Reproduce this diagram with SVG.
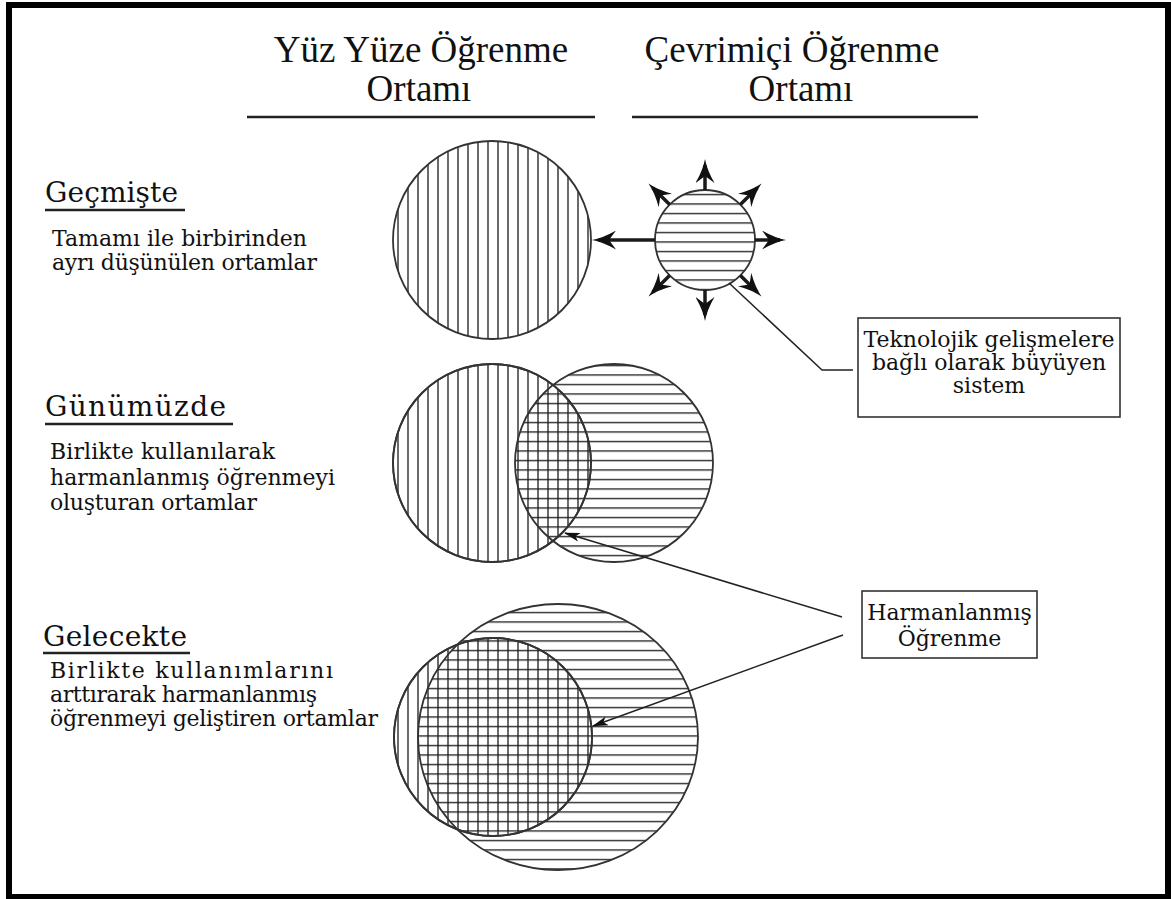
<svg xmlns="http://www.w3.org/2000/svg" width="1171" height="899" viewBox="0 0 1171 899">
<style>
.hdr{font-family:"Liberation Serif",serif;font-size:37px;fill:#111;text-anchor:middle}
.lbl{font-family:"DejaVu Serif","Liberation Serif",serif;font-size:28px;fill:#111}
.body{font-family:"DejaVu Serif","Liberation Serif",serif;font-size:22px;fill:#111}
.boxt{font-family:"DejaVu Serif","Liberation Serif",serif;font-size:22px;fill:#111;text-anchor:middle}
.rule{stroke:#222;stroke-width:2.6;fill:none}
.circ{stroke:#333;stroke-width:1.8}
.box{fill:#fff;stroke:#333;stroke-width:1.6}
.thick{stroke:#1a1a1a;stroke-width:3.5;fill:none;marker-end:url(#mk-big)}
.thin{stroke:#222;stroke-width:1.5;fill:none}
.thinarr{stroke:#222;stroke-width:1.5;fill:none;marker-end:url(#mk-small)}
</style>
<defs>
<pattern id="vh" patternUnits="userSpaceOnUse" x="0" y="0" width="10" height="10">
<path d="M8,0V10" stroke="#1a1a1a" stroke-width="1.3"/>
</pattern>
<pattern id="hh" patternUnits="userSpaceOnUse" x="0" y="0" width="10" height="9.5">
<path d="M0,4.5H10" stroke="#1a1a1a" stroke-width="1.3"/>
</pattern>
<marker id="mk-big" markerUnits="userSpaceOnUse" viewBox="0 0 24 19" markerWidth="24" markerHeight="19" refX="18" refY="9.5" orient="auto">
<path d="M24,9.5 Q13,7.5 0,0 L7,9.5 L0,19 Q13,11.5 24,9.5 Z" fill="#111"/>
</marker>
<marker id="mk-small" markerUnits="userSpaceOnUse" viewBox="0 0 16 9" markerWidth="16" markerHeight="9" refX="15" refY="4.5" orient="auto">
<path d="M16,4.5 L0,0 L4,4.5 L0,9 Z" fill="#111"/>
</marker>
</defs>
<rect x="0" y="0" width="1171" height="899" fill="#fff"/>
<rect id="frame" x="9" y="5" width="1159" height="892" fill="none" stroke="#000" stroke-width="6"/>

<g id="header-ftf">
<text class="hdr" x="421" y="62">Yüz Yüze Öğrenme</text>
<text class="hdr" x="419" y="101">Ortamı</text>
<line class="rule" x1="247" y1="117" x2="595" y2="117"/>
</g>
<g id="header-online">
<text class="hdr" x="792" y="62">Çevrimiçi Öğrenme</text>
<text class="hdr" x="801" y="101">Ortamı</text>
<line class="rule" x1="632" y1="117" x2="978" y2="117"/>
</g>

<g id="label-past">
<text class="lbl" x="45" y="202" textLength="133">Geçmişte</text>
<line class="rule" x1="45" y1="210" x2="185" y2="210"/>
<text class="body" x="52" y="246" textLength="255">Tamamı ile birbirinden</text>
<text class="body" x="52" y="270" textLength="265">ayrı düşünülen ortamlar</text>
</g>
<g id="label-present">
<text class="lbl" x="45" y="416" textLength="181">Günümüzde</text>
<line class="rule" x1="45" y1="424" x2="233" y2="424"/>
<text class="body" x="50" y="459" textLength="225">Birlikte kullanılarak</text>
<text class="body" x="50" y="485" textLength="285">harmanlanmış öğrenmeyi</text>
<text class="body" x="50" y="510" textLength="207">oluşturan ortamlar</text>
</g>
<g id="label-future">
<text class="lbl" x="43" y="646" textLength="144">Gelecekte</text>
<line class="rule" x1="43" y1="653" x2="190" y2="653"/>
<text class="body" x="50" y="678" textLength="283">Birlikte kullanımlarını</text>
<text class="body" x="50" y="702" textLength="267">arttırarak harmanlanmış</text>
<text class="body" x="50" y="726" textLength="328">öğrenmeyi geliştiren ortamlar</text>
</g>

<g id="past-ftf">
<circle class="circ" cx="492" cy="240" r="99" fill="url(#vh)"/>
</g>
<g id="past-online">
<circle class="circ" cx="705" cy="240" r="50" fill="url(#hh)"/>
</g>

<g id="present-ftf">
<circle class="circ" cx="492" cy="463" r="99" fill="url(#vh)"/>
</g>
<g id="present-online">
<circle class="circ" cx="614" cy="463" r="99" fill="url(#hh)"/>
<circle cx="492" cy="463" r="99" fill="none" stroke="#333" stroke-width="1.8"/>
</g>

<g id="future-ftf">
<circle class="circ" cx="493" cy="737" r="99" fill="url(#vh)"/>
</g>
<g id="future-online">
<ellipse class="circ" cx="558" cy="737" rx="140" ry="133" fill="url(#hh)"/>
<circle cx="493" cy="737" r="99" fill="none" stroke="#333" stroke-width="1.8"/>
</g>

<g id="note-tech">
<rect class="box" x="858" y="318" width="262" height="99"/>
<text class="boxt" x="989" y="347">Teknolojik gelişmelere</text>
<text class="boxt" x="989" y="370">bağlı olarak büyüyen</text>
<text class="boxt" x="989" y="393">sistem</text>
</g>
<g id="note-blended">
<rect class="box" x="862" y="591" width="175" height="67"/>
<text class="boxt" x="949.5" y="620">Harmanlanmış</text>
<text class="boxt" x="949.5" y="646">Öğrenme</text>
</g>

<g id="connectors">
<line class="thick" x1="655" y1="240" x2="598" y2="240"/>
<line class="thick" x1="705" y1="190" x2="705" y2="165"/>
<line class="thick" x1="740.4" y1="204.6" x2="757.3" y2="187.7"/>
<line class="thick" x1="755" y1="240" x2="780" y2="240"/>
<line class="thick" x1="740.4" y1="275.4" x2="757.3" y2="292.3"/>
<line class="thick" x1="705" y1="290" x2="705" y2="315"/>
<line class="thick" x1="669.6" y1="275.4" x2="652.7" y2="292.3"/>
<line class="thick" x1="669.6" y1="204.6" x2="652.7" y2="187.7"/>
<polyline class="thin" points="729,283 822,370 853,370"/>
<line class="thinarr" x1="842" y1="617" x2="565" y2="533"/>
<line class="thinarr" x1="843" y1="635" x2="593" y2="726"/>
</g>
</svg>
